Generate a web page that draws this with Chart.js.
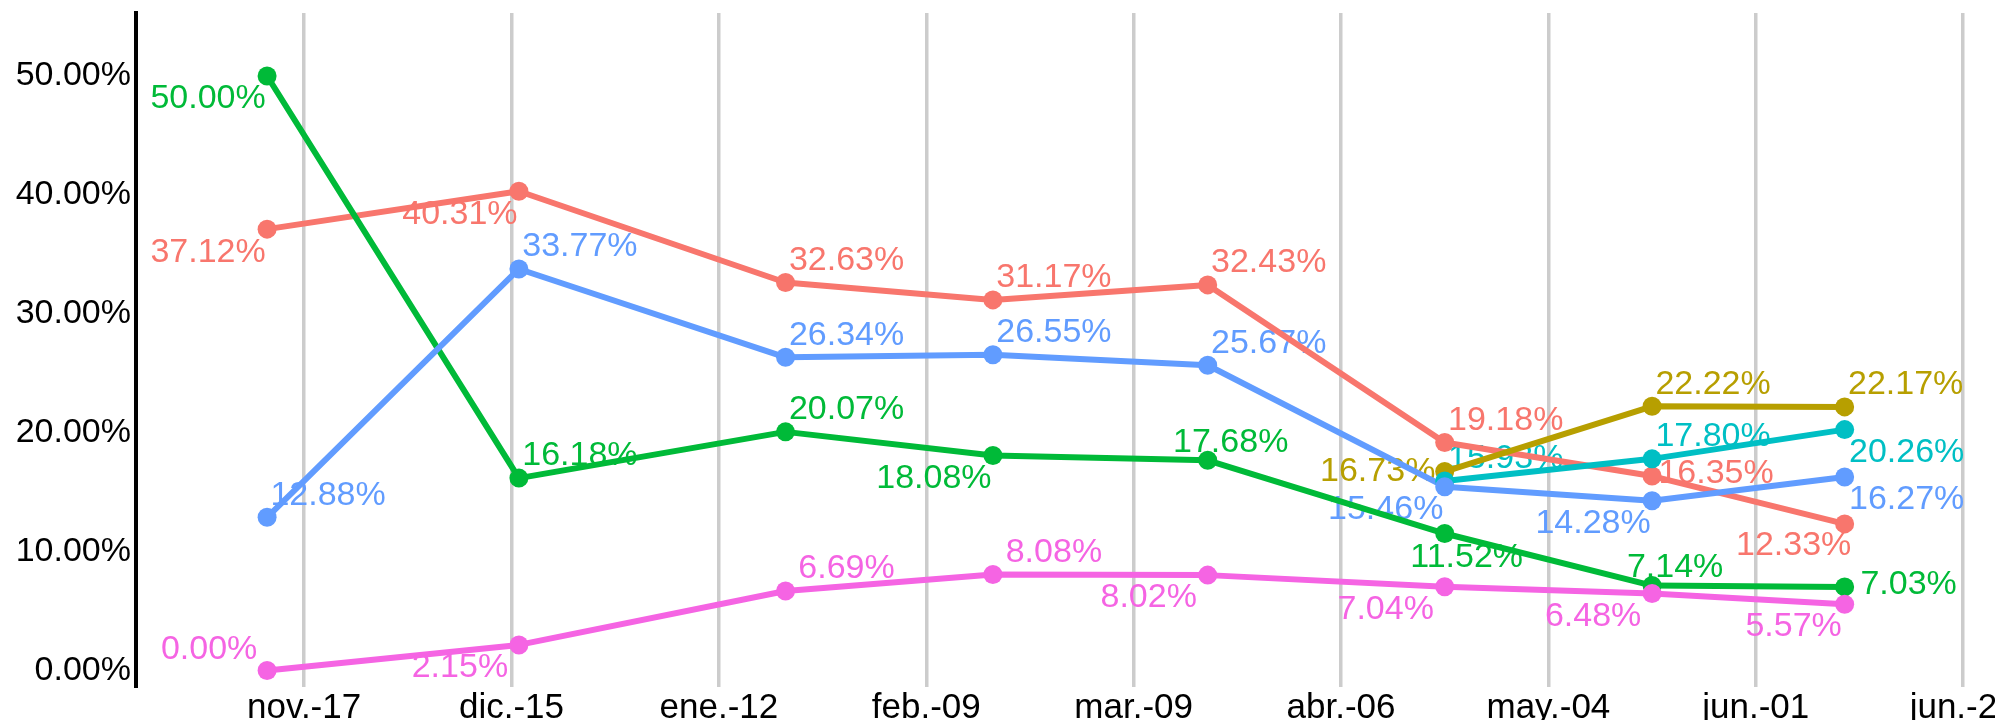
<!DOCTYPE html>
<html>
<head>
<meta charset="utf-8">
<script src="https://cdn.jsdelivr.net/npm/chart.js@4.4.1/dist/chart.umd.min.js"></script>
<style>
  html, body { margin: 0; padding: 0; background: #fff; overflow: hidden; }
  #wrap { width: 1995px; height: 720px; position: relative; }
</style>
</head>
<body>
<div id="wrap"><canvas id="chart"></canvas></div>
<script>
  // ---- data ----
  const DATES = ['2018-11-12', '2018-12-16', '2019-01-21', '2019-02-18',
                 '2019-03-19', '2019-04-20', '2019-05-18', '2019-06-13'];
  const TICK_DATES = ['2018-11-17', '2018-12-15', '2019-01-12', '2019-02-09', '2019-03-09',
                      '2019-04-06', '2019-05-04', '2019-06-01', '2019-06-29'];
  const TICK_LABELS = ['nov.-17', 'dic.-15', 'ene.-12', 'feb.-09', 'mar.-09',
                       'abr.-06', 'may.-04', 'jun.-01', 'jun.-29'];
  const Y_TICKS = [0, 10, 20, 30, 40, 50];

  const RED     = [37.12, 40.31, 32.63, 31.17, 32.43, 19.18, 16.35, 12.33];
  const OLIVE   = [null, null, null, null, null, 16.73, 22.22, 22.17];
  const GREEN   = [50.00, 16.18, 20.07, 18.08, 17.68, 11.52, 7.14, 7.03];
  const CYAN    = [null, null, null, null, null, 15.93, 17.80, 20.26];
  const BLUE    = [12.88, 33.77, 26.34, 26.55, 25.67, 15.46, 14.28, 16.27];
  const MAGENTA = [0.00, 2.15, 6.69, 8.08, 8.02, 7.04, 6.48, 5.57];

  // ggplot hue palette, drawn in this order (last one ends up on top)
  const SERIES = [
    { values: RED,     color: '#F8766D' },
    { values: OLIVE,   color: '#B79F00' },
    { values: GREEN,   color: '#00BA38' },
    { values: CYAN,    color: '#00BFC4' },
    { values: BLUE,    color: '#619CFF' },
    { values: MAGENTA, color: '#F564E3' },
  ];

  // where each value label sits relative to its point
  const PLACES = [
    ['sw', 'sw', 'ne', 'ne', 'ne', 'ne', 'e', 'ssw'],
    [null, null, null, null, null, 'w', 'ne', 'ne'],
    ['sw', 'ne', 'ne', 'sw', 'n', 's', 'n', 'e'],
    [null, null, null, null, null, 'ne', 'ne', 'se'],
    ['ne', 'ne', 'ne', 'ne', 'ne', 'sw', 'sw', 'se'],
    ['nw', 'sw', 'ne', 'ne', 'sw', 'sw', 'sw', 'ssw'],
  ];
  const NUDGE = {
    ne: [61, -22], nw: [-58, -21], se: [62, 23], sw: [-59, 23], ssw: [-51, 22],
    e: [64, -2], w: [-67, 0], n: [23, -18], s: [22, 24],
  };

  const FAMILY = "'Liberation Sans', Arial, sans-serif";
  const LABEL_SIZE = 34;

  const day = (s) => Date.UTC(+s.slice(0, 4), +s.slice(5, 7) - 1, +s.slice(8, 10)) / 864e5;
  const X0 = day(TICK_DATES[0]);
  const X_MIN = -22.7, X_MAX = 228.3;   // days around the first tick
  const Y_MIN = -1.39, Y_MAX = 55.3;

  const toXY = (vals) => vals.map((v, i) => ({ x: day(DATES[i]) - X0, y: v }));

  // Value labels go under the lines, like the original.
  const pointLabels = {
    id: 'pointLabels',
    beforeDatasetsDraw(chart) {
      const ctx = chart.ctx;
      ctx.save();
      ctx.font = LABEL_SIZE + 'px ' + FAMILY;
      ctx.textAlign = 'center';
      ctx.textBaseline = 'middle';
      chart.data.datasets.forEach((ds, di) => {
        if (ds.seriesIdx == null) return;
        const meta = chart.getDatasetMeta(di);
        meta.data.forEach((pt, i) => {
          const v = ds.data[i].y;
          const place = PLACES[ds.seriesIdx][i];
          if (v == null || !place) return;
          const [dx, dy] = NUDGE[place];
          ctx.fillStyle = SERIES[ds.seriesIdx].color;
          ctx.fillText(v.toFixed(2) + '%', pt.x + dx, pt.y + dy);
        });
      });
      ctx.restore();
    },
  };

  // lines first, all points above them
  const datasets = [];
  SERIES.forEach((s, i) => {
    datasets.push({
      data: toXY(s.values), borderColor: s.color, borderWidth: 6,
      borderJoinStyle: 'round', borderCapStyle: 'round',
      pointRadius: 0, spanGaps: false, order: 20 - i,
    });
    datasets.push({
      data: toXY(s.values), showLine: false, seriesIdx: i,
      pointRadius: 9.5, pointHoverRadius: 9.5, pointBorderWidth: 0,
      pointBackgroundColor: s.color, borderColor: s.color, order: 10 - i,
    });
  });

  new Chart(document.getElementById('chart'), {
    type: 'line',
    data: { datasets },
    plugins: [pointLabels],
    options: {
      responsive: true, maintainAspectRatio: false, animation: false,
      layout: { autoPadding: false, padding: { top: 13, left: 0, right: 0, bottom: 0 } },
      plugins: { legend: { display: false }, tooltip: { enabled: false } },
      scales: {
        x: {
          type: 'linear', min: X_MIN, max: X_MAX,
          afterBuildTicks: (s) => { s.ticks = TICK_DATES.map(t => ({ value: day(t) - X0 })); },
          afterFit: (s) => { s.height = 33; s.paddingLeft = 0; s.paddingRight = 0; },
          grid: { color: '#cccccc', lineWidth: 3.5, drawTicks: false },
          border: { display: false },
          ticks: {
            callback: (v, i) => TICK_LABELS[i], color: '#000',
            font: { family: FAMILY, size: 35 },
            padding: 0, maxRotation: 0, autoSkip: false,
          },
        },
        y: {
          min: Y_MIN, max: Y_MAX,
          afterBuildTicks: (s) => { s.ticks = Y_TICKS.map(v => ({ value: v })); },
          afterFit: (s) => { s.width = 136; s.paddingTop = 0; s.paddingBottom = 0; },
          grid: { display: false, drawTicks: false },
          border: { display: true, color: '#000', width: 4 },
          ticks: {
            callback: (v) => v.toFixed(2) + '%', color: '#000',
            font: { family: FAMILY, size: 34 }, padding: 5,
          },
        },
      },
    },
  });
</script>
</body>
</html>
